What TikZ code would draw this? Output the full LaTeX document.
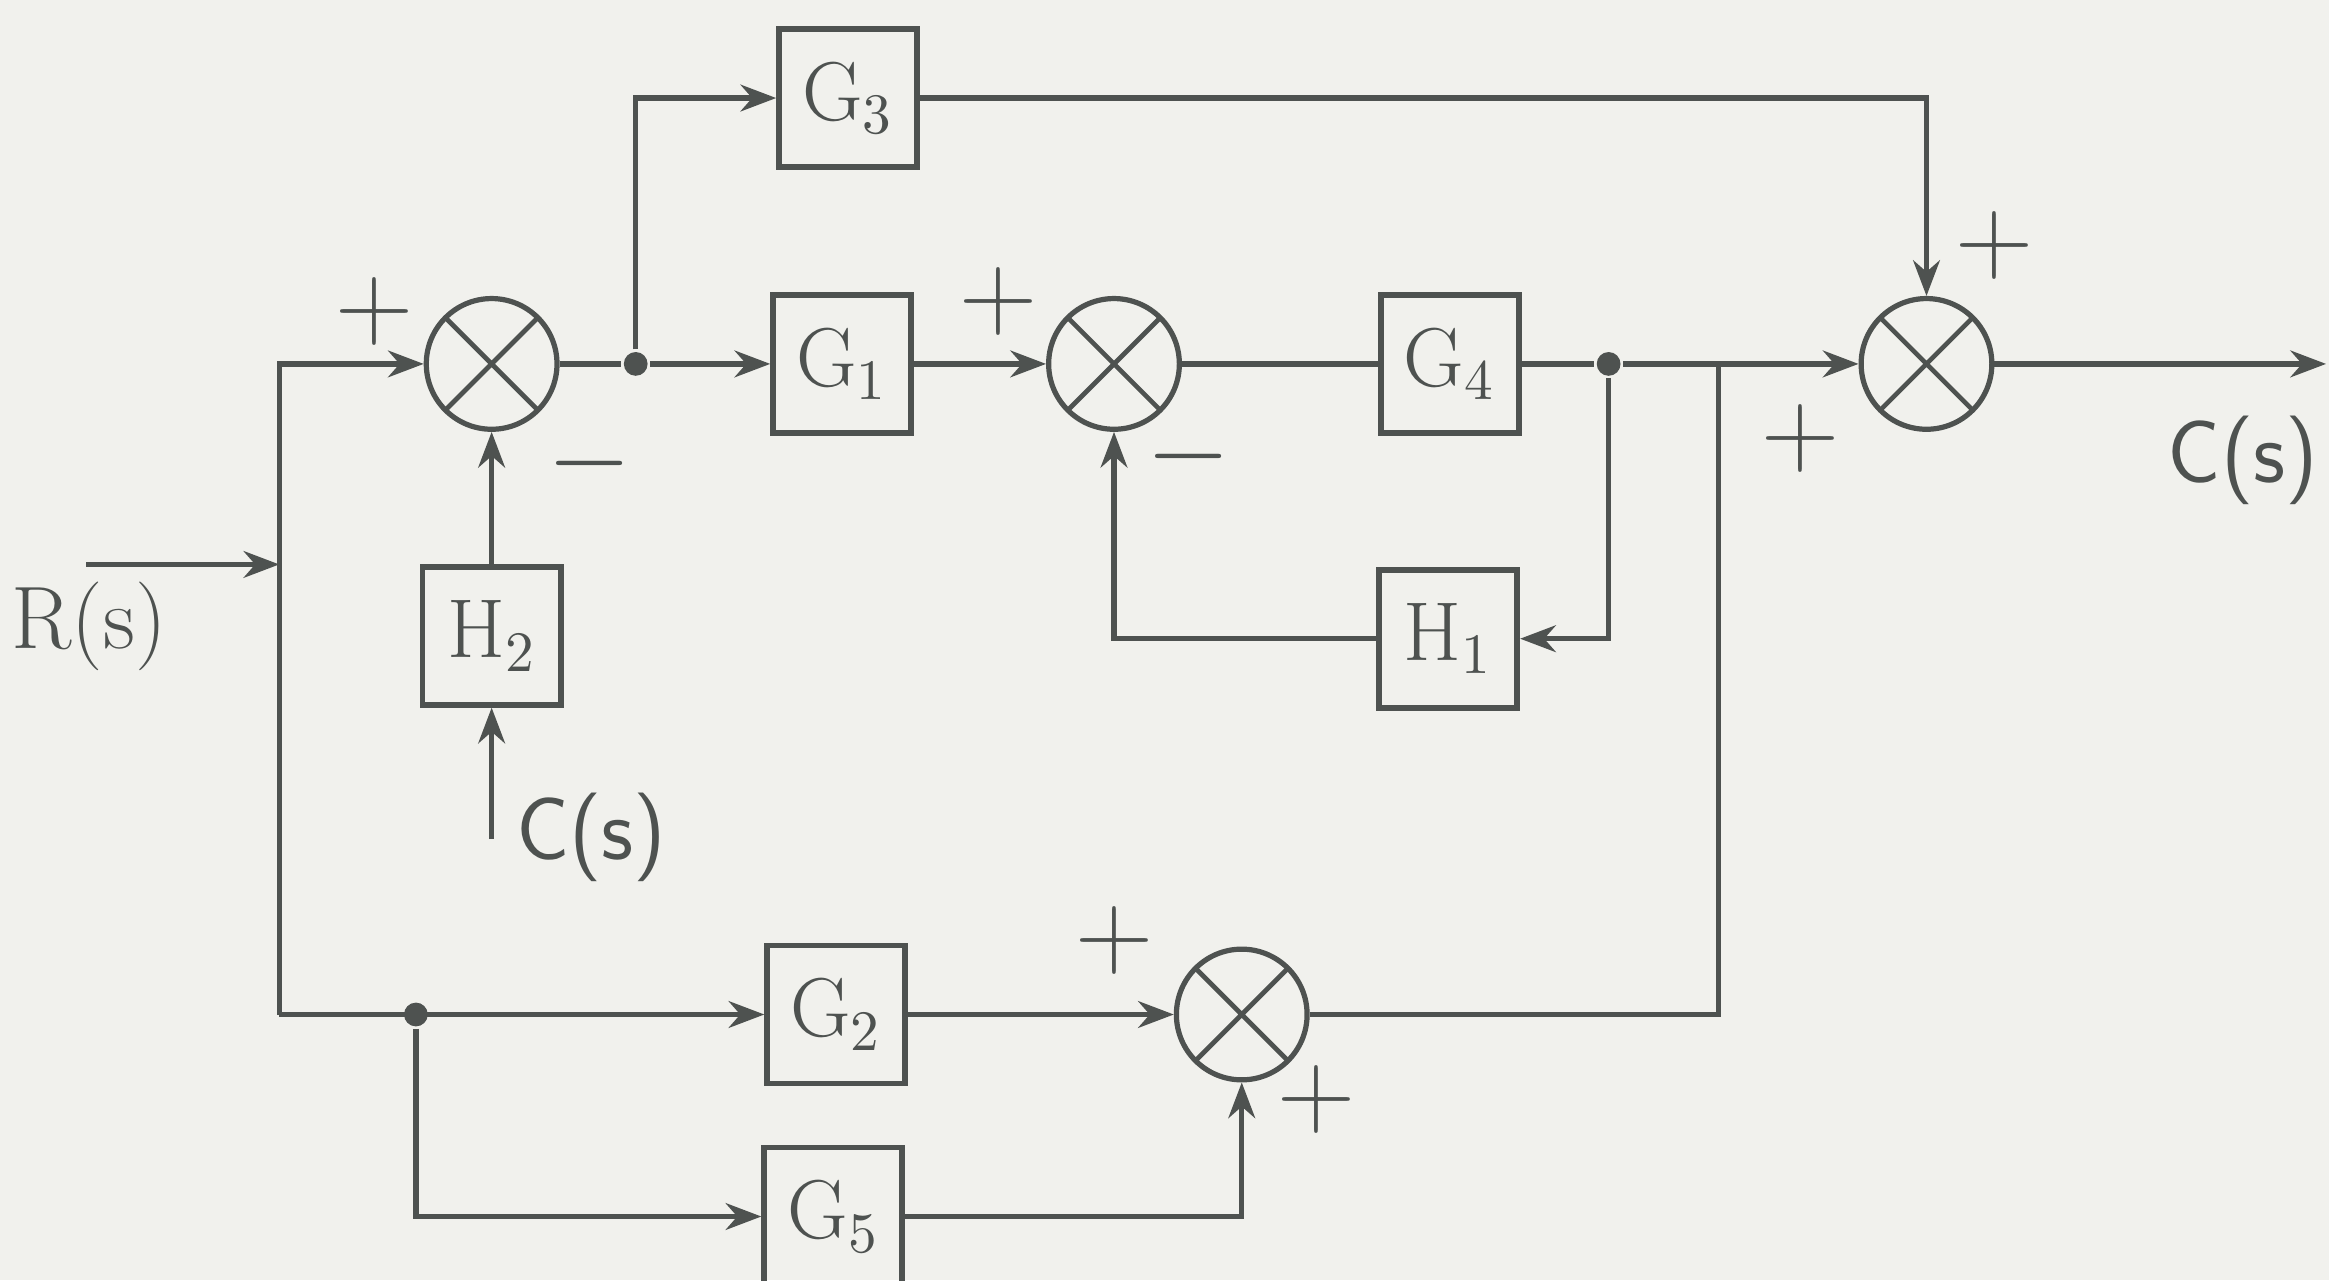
\documentclass[tikz,border=0pt]{standalone}
\usepackage{amsmath}
\usetikzlibrary{arrows.meta,calc}
\definecolor{paper}{RGB}{241,241,237}
\definecolor{ink}{RGB}{78,82,80}

\begin{document}
\begin{tikzpicture}[
    >={Stealth[length=2.4mm,width=1.8mm]},
    line width=1pt, draw=ink,
    box/.style={draw=ink, line width=1.1pt, minimum width=9.3mm, minimum height=9.3mm,
                inner sep=0pt, font=\fontsize{16}{18}\selectfont, text=ink},
    sum/.style={draw=ink, circle, minimum size=8.8mm, inner sep=0pt,
                path picture={\draw[ink, line width=0.9pt]
                  (path picture bounding box.north west) -- (path picture bounding box.south east)
                  (path picture bounding box.north east) -- (path picture bounding box.south west);}},
    dot/.style={circle, fill=ink, inner sep=0pt, minimum size=1.6mm},
    sign/.style={font=\fontsize{22}{24}\selectfont, text=ink},
    lbl/.style={font=\fontsize{17}{19}\selectfont, text=ink},
    arr/.style={->, draw=ink},
  ]
    \fill[paper] (0,0) rectangle (15.68,8.62);
    \useasboundingbox (0,0) rectangle (15.68,8.62);

    % forward path
    \node[sum] (sum1) at (3.31,6.17) {};
    \node[dot] (dot1) at (4.28,6.17) {};
    \node[box] (g3) at (5.71,7.96) {G$_3$};
    \node[box] (g1) at (5.67,6.17) {G$_1$};
    \node[sum] (sum2) at (7.50,6.17) {};
    \node[box] (g4) at (9.76,6.17) {G$_4$};
    \node[dot] (dot2) at (10.83,6.17) {};
    \node[sum] (sum3) at (12.97,6.17) {};
    \coordinate (out) at (15.66,6.17);
    \node[box] (h1) at (9.75,4.32) {H$_1$};
    \node[box] (h2) at (3.31,4.34) {H$_2$};

    % lower branch
    \node[dot] (dot3) at (2.80,1.79) {};
    \node[box] (g2) at (5.63,1.79) {G$_2$};
    \node[sum] (sum4) at (8.36,1.79) {};
    \node[box] (g5) at (5.61,0.43) {G$_5$};

    \coordinate (rin) at (0.58,4.82);
    \coordinate (jin) at (1.88,4.82);
    \coordinate (jbot) at (1.88,1.79);
    \coordinate (jright) at (11.57,6.17);
    \coordinate (cin) at (3.31,2.97);

    % labels
    \node[lbl] (rlbl) at (0.60,4.40) {R(s)};
    \node[lbl, font=\fontsize{17}{19}\sffamily] (clbl) at (3.98,2.98) {C(s)};
    \node[lbl, font=\fontsize{17}{19}\sffamily] (olbl) at (15.10,5.52) {C(s)};

    \node[sign] at (2.52,6.52) {$+$};
    \node[sign] at (3.97,5.50) {$-$};
    \node[sign] at (6.72,6.59) {$+$};
    \node[sign] at (8.00,5.55) {$-$};
    \node[sign] at (13.43,6.97) {$+$};
    \node[sign] at (12.12,5.67) {$+$};
    \node[sign] at (7.50,2.29) {$+$};
    \node[sign] at (8.86,1.22) {$+$};

    % connectors
    \draw[arr] (rin) -- (jin);
    \draw[arr] (jbot) |- (sum1.west);
    \draw[arr] (jbot) -- (g2.west);
    \draw[arr] (cin) -- (h2.south);
    \draw[arr] (h2.north) -- (sum1.south);
    \draw (sum1.east) -- (dot1);
    \draw[arr] (dot1) -- (g1.west);
    \draw[arr] (dot1) |- (g3.west);
    \draw[arr] (g3.east) -| (sum3.north);
    \draw[arr] (g1.east) -- (sum2.west);
    \draw (sum2.east) -- (g4.west);
    \draw (g4.east) -- (dot2);
    \draw[arr] (dot2) -- (sum3.west);
    \draw[arr] (dot2) |- (h1.east);
    \draw[arr] (h1.west) -| (sum2.south);
    \draw[arr] (sum3.east) -- (out);
    \draw[arr] (dot3) |- (g5.west);
    \draw[arr] (g2.east) -- (sum4.west);
    \draw[arr] (g5.east) -| (sum4.south);
    \draw (sum4.east) -| (jright);
\end{tikzpicture}
\end{document}
